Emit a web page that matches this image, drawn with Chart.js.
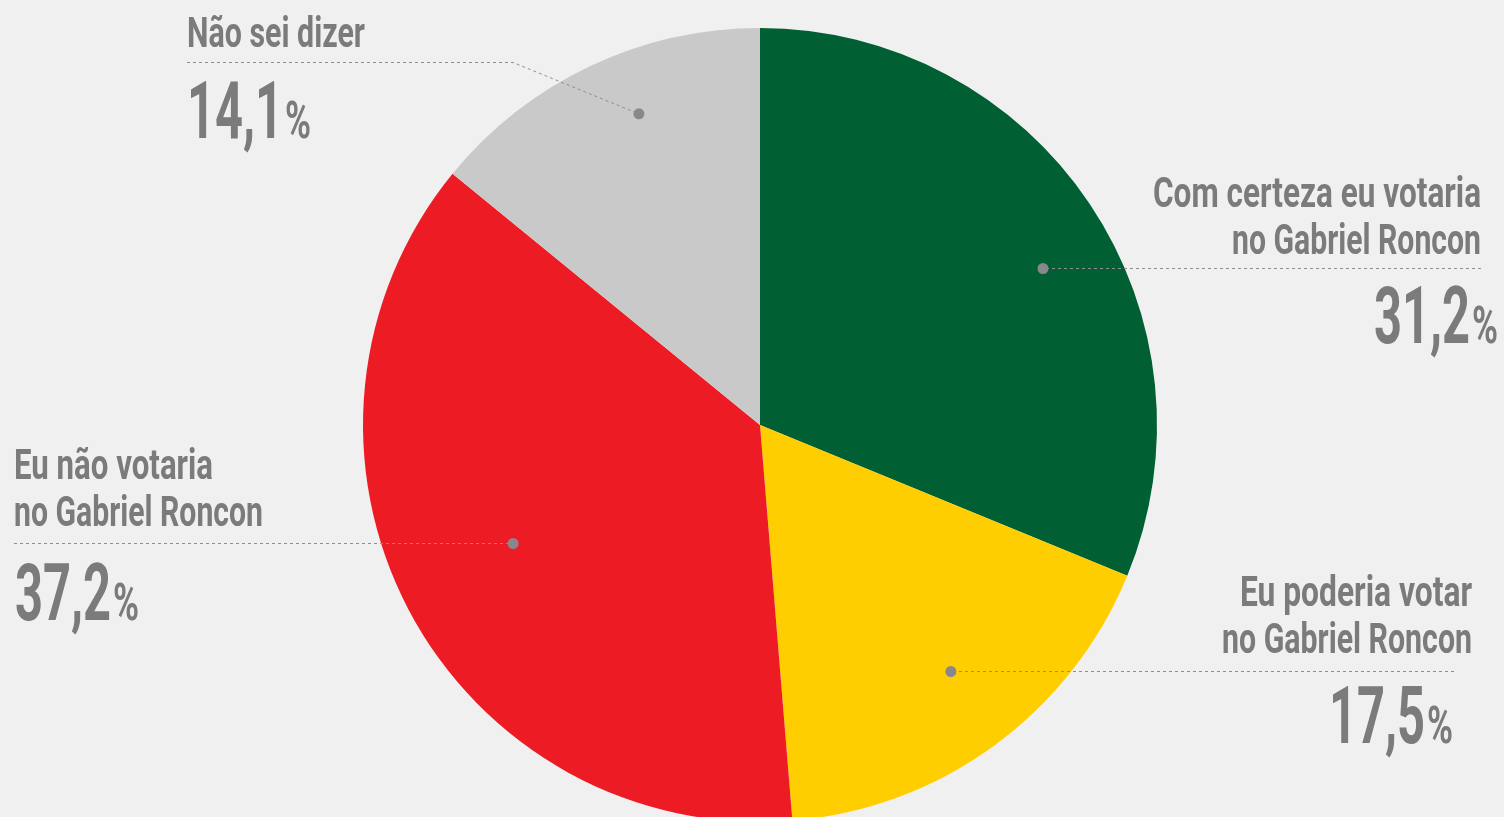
<!DOCTYPE html>
<html><head><meta charset="utf-8">
<script src="https://cdn.jsdelivr.net/npm/chart.js@4.4.0/dist/chart.umd.min.js"></script>
<style>
html,body{margin:0;padding:0;background:#f0f0f0;overflow:hidden;width:1504px;height:817px}
canvas{display:block}
</style></head><body>
<canvas id="c" width="1504" height="850" style="width:1504px;height:850px"></canvas>
<script>
// ---- data ----
const categories = [
  ["Com certeza eu votaria", "no Gabriel Roncon"],
  ["Eu poderia votar", "no Gabriel Roncon"],
  ["Eu não votaria", "no Gabriel Roncon"],
  ["Não sei dizer"]
];
const values = [31.2, 17.5, 37.2, 14.1];
const sliceColors = ["#006034", "#ffce00", "#ed1c24", "#c9c9c9"];

// ---- label layout (style only) ----
const labelLayout = [
  {align:"right", x:1481, lines:[207,254], widths:[328,249], leaderY:268, leaderEdge:1481, numY:343, numX:1498, dotT:0.543, dotR:0.815},
  {align:"right", x:1472, lines:[606,653], widths:[232,250], leaderY:671, leaderEdge:1454, numY:743, numX:1453, dotT:0.474, dotR:0.784},
  {align:"left",  x:14,   lines:[479,526], widths:[199,249], leaderY:543, leaderEdge:14,   numY:620, numX:15,   dotT:0.518, dotR:0.688},
  {align:"left",  x:187,  lines:[47],      widths:[178],     leaderY:62,  leaderEdge:187, bendX:513, numY:138, numX:187, dotT:0.581, dotR:0.841}
];
const TEXT_COLOR = "#7b7b7b";
const DOT_COLOR = "#87878d";
const LINE_COLOR = "#8e8e8e";
const LABEL_FONT = "bold 42px Roboto";
const NUM_FONT = "bold 80px Roboto";
const PCT_FONT = "bold 52px Roboto";

function drawText(ctx, text, x, y, sx, align){
  ctx.save();
  ctx.translate(x, y);
  ctx.scale(sx, 1);
  ctx.textAlign = align;
  ctx.textBaseline = "alphabetic";
  ctx.fillText(text, 0, 0);
  ctx.restore();
}

const calloutPlugin = {
  id: "callouts",
  afterDatasetsDraw(chart){
    const ctx = chart.ctx;
    const meta = chart.getDatasetMeta(0);
    ctx.save();
    ctx.font = NUM_FONT;
    const numSX = 96 / ctx.measureText("37,2").width;
    ctx.font = PCT_FONT;
    const pctSX = 26 / ctx.measureText("%").width;

    meta.data.forEach((arc, i) => {
      const L = labelLayout[i];
      const p = arc.getProps(["x","y","startAngle","endAngle","outerRadius"], true);
      const a = p.startAngle + L.dotT * (p.endAngle - p.startAngle);
      const px = p.x + Math.cos(a) * p.outerRadius * L.dotR;
      const py = p.y + Math.sin(a) * p.outerRadius * L.dotR;

      // leader line
      ctx.strokeStyle = LINE_COLOR;
      ctx.lineWidth = 1;
      ctx.setLineDash([3, 3]);
      ctx.beginPath();
      const ly = L.leaderY + 0.5;
      ctx.moveTo(L.leaderEdge, ly);
      if (L.bendX) {
        ctx.lineTo(L.bendX, ly);
        ctx.lineTo(px, py);
      } else {
        ctx.lineTo(px, ly);
      }
      ctx.stroke();
      ctx.setLineDash([]);

      // dot
      ctx.fillStyle = DOT_COLOR;
      ctx.beginPath();
      ctx.arc(px, L.bendX ? py : ly, 5.5, 0, Math.PI * 2);
      ctx.fill();

      // category text
      ctx.fillStyle = TEXT_COLOR;
      ctx.font = LABEL_FONT;
      categories[i].forEach((line, k) => {
        const sx = L.widths[k] / ctx.measureText(line).width;
        drawText(ctx, line, L.x, L.lines[k], sx, L.align);
      });

      // value
      const numStr = values[i].toFixed(1).replace(".", ",");
      ctx.font = NUM_FONT;
      const nw = ctx.measureText(numStr).width * numSX;
      ctx.font = PCT_FONT;
      const pw = ctx.measureText("%").width * pctSX;
      const gap = 2;
      let nx;
      if (L.align === "left") nx = L.numX; else nx = L.numX - pw - gap - nw;
      ctx.font = NUM_FONT;
      drawText(ctx, numStr, nx, L.numY, numSX, "left");
      ctx.font = PCT_FONT;
      drawText(ctx, "%", nx + nw + gap, L.numY, pctSX, "left");
    });
    ctx.restore();
  }
};

new Chart(document.getElementById("c"), {
  type: "pie",
  data: {
    labels: categories.map(c => c.join(" ")),
    datasets: [{
      data: values,
      backgroundColor: sliceColors,
      borderWidth: 0,
      hoverBorderWidth: 0,
      hoverOffset: 0,
      offset: 0
    }]
  },
  options: {
    responsive: false,
    animation: false,
    devicePixelRatio: 1,
    layout: { padding: { left: 363, right: 347, top: 28, bottom: 28 } },
    plugins: { legend: { display: false }, tooltip: { enabled: false } },
    events: []
  },
  plugins: [calloutPlugin]
});
</script>
</body></html>
